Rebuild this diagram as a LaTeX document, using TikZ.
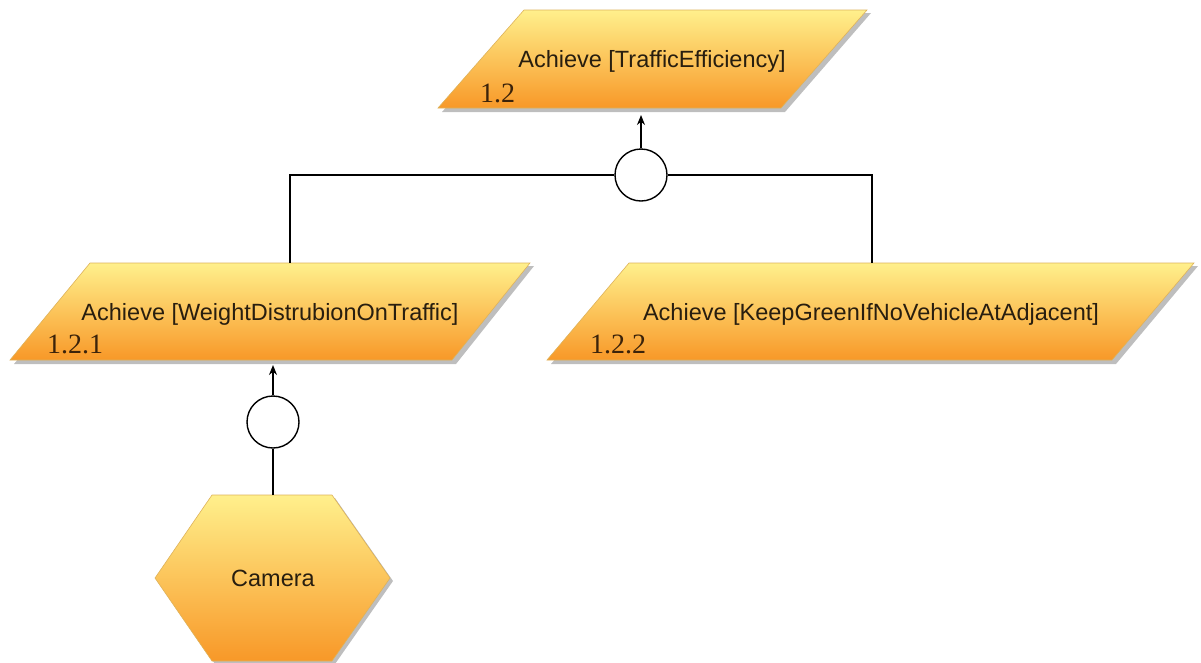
\documentclass[tikz,border=0pt]{standalone}
\usepackage{fontspec}
\setmainfont{Liberation Sans}
\newfontfamily\numfont{Liberation Serif}
\usetikzlibrary{arrows.meta}

\definecolor{gtop}{RGB}{255,240,140}
\definecolor{gmid}{RGB}{253,196,82}
\definecolor{gbot}{RGB}{248,152,40}
\definecolor{gedge}{RGB}{222,178,90}
\definecolor{shadowgray}{RGB}{190,190,190}
\definecolor{labeltext}{RGB}{40,30,15}
\definecolor{numtext}{RGB}{60,35,10}

\tikzset{
  goalbody/.style={shading=axis, top color=gtop, middle color=gmid, bottom color=gbot, draw=gedge, line width=0.6pt},
  dropshadow/.style={fill=shadowgray},
  link/.style={draw=black, line width=1.4pt},
  arrowlink/.style={link, -{Stealth[length=10pt,width=8pt]}},
  refinement/.style={circle, draw=black, fill=white, line width=1.4pt, minimum size=52pt, inner sep=0pt},
  goaltitle/.style={font=\fontsize{23.5}{26}\selectfont, text=labeltext, inner sep=0pt, anchor=base},
  goalref/.style={font=\numfont\fontsize{28}{30}\selectfont, text=numtext, inner sep=0pt, anchor=base west},
}

\begin{document}
\begin{tikzpicture}[x=1pt, y=-1pt]
\useasboundingbox (0,0) rectangle (1201,662);

% ---- Goal 1.2 ----
\fill[dropshadow] (528,13) -- (871,13) -- (785,112) -- (442,112) -- cycle;
\path[goalbody] (524,10) -- (867,10) -- (781,108) -- (438,108) -- cycle;
\node[goaltitle] (t12) at (652,67) {Achieve [TrafficEfficiency]};
\node[goalref] (n12) at (480,102) {1.2};
\coordinate (g12in) at (641,115);

% ---- Goal 1.2.1 ----
\fill[dropshadow] (94,266) -- (534,266) -- (456,364) -- (14,364) -- cycle;
\path[goalbody] (90,263) -- (530,263) -- (452,360) -- (10,360) -- cycle;
\node[goaltitle] (t121) at (270,320) {Achieve [WeightDistrubionOnTraffic]};
\node[goalref] (n121) at (47,353) {1.2.1};
\coordinate (g121top) at (290,263);
\coordinate (g121in) at (273,365);

% ---- Goal 1.2.2 ----
\fill[dropshadow] (633,266) -- (1198,266) -- (1116,364) -- (551,364) -- cycle;
\path[goalbody] (629,263) -- (1194,263) -- (1112,360) -- (547,360) -- cycle;
\node[goaltitle] (t122) at (871,320) {Achieve [KeepGreenIfNoVehicleAtAdjacent]};
\node[goalref] (n122) at (590,353) {1.2.2};
\coordinate (g122top) at (872,263);

% ---- Agent: Camera ----
\fill[dropshadow] (215,498) -- (335,498) -- (393,581) -- (335,664) -- (215,664) -- (158,581) -- cycle;
\path[goalbody] (212,495) -- (332,495) -- (390,578) -- (332,661) -- (212,661) -- (155,578) -- cycle;
\node[goaltitle, anchor=center] (cam) at (273,578) {Camera};
\coordinate (camtop) at (273,495);

% ---- Refinements ----
\node[refinement] (r12) at (641,175) {};
\node[refinement] (r121) at (273,422) {};

\draw[arrowlink] (r12.north) -- (g12in);
\draw[link] (r12.west) -| (g121top);
\draw[link] (r12.east) -| (g122top);

\draw[arrowlink] (r121.north) -- (g121in);
\draw[link] (camtop) -- (r121.south);
\end{tikzpicture}
\end{document}
